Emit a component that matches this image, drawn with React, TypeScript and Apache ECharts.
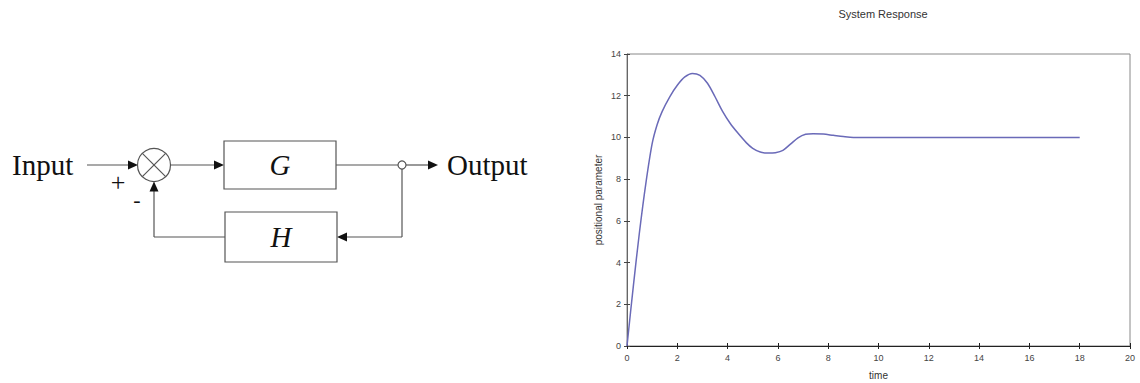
import React, { useEffect, useRef } from "react";
import * as echarts from "echarts";

// Step response of the closed loop (time, position)
const timeValues = [
  0, 0.25, 0.5, 0.75, 1.0, 1.2, 1.4, 1.7, 2.0, 2.3, 2.6, 2.9, 3.2, 3.5, 3.8, 4.1, 4.4,
  4.75, 5.0, 5.3, 5.6, 5.9, 6.2, 6.5, 6.8, 7.1, 7.4, 7.8, 8.2, 8.6, 9.0, 18.0,
];
const positionValues = [
  0, 2.85, 5.5, 7.8, 9.7, 10.62, 11.25, 11.95, 12.5, 12.9, 13.07, 12.98, 12.6, 11.95,
  11.25, 10.68, 10.22, 9.74, 9.48, 9.3, 9.25, 9.27, 9.38, 9.68, 9.98, 10.15, 10.18,
  10.16, 10.1, 10.04, 10.0, 10.0,
];
const xTickStep = 2;
const yTickStep = 2;

const chartTitle = "System Response";
const xAxisName = "time";
const yAxisName = "positional parameter";

// Block diagram labels
const inputLabel = "Input";
const outputLabel = "Output";
const forwardLabel = "G";
const feedbackLabel = "H";

const lineColor = "#555";
const arrowColor = "#111";
const serif = "'Liberation Serif', 'Times New Roman', serif";
const sans = "'Liberation Sans', Arial, sans-serif";

function arrow(tipX: number, tipY: number, dir: "right" | "left" | "up") {
  const len = 10;
  const half = 4.5;
  let pts: number[][];
  if (dir === "right") pts = [[tipX, tipY], [tipX - len, tipY - half], [tipX - len, tipY + half]];
  else if (dir === "left") pts = [[tipX, tipY], [tipX + len, tipY - half], [tipX + len, tipY + half]];
  else pts = [[tipX, tipY], [tipX - half, tipY + len], [tipX + half, tipY + len]];
  return { type: "polygon", shape: { points: pts }, style: { fill: arrowColor } };
}

function seg(x1: number, y1: number, x2: number, y2: number) {
  return {
    type: "line",
    shape: { x1, y1, x2, y2 },
    style: { stroke: lineColor, lineWidth: 1.2 },
  };
}

export default function App() {
  const ref = useRef<HTMLDivElement>(null);

  useEffect(() => {
    if (!ref.current) return;
    const chart = echarts.init(ref.current, null, { renderer: "svg" });

    const cx = 154;
    const cy = 165;
    const r = 16.5;
    const d = r * Math.SQRT1_2;

    const diagram: any[] = [
      {
        type: "text",
        x: 12,
        y: cy,
        style: { text: inputLabel, font: `29px ${serif}`, fill: "#111", verticalAlign: "middle" },
      },
      seg(87, cy, 130, cy),
      arrow(138, cy, "right"),
      { type: "circle", shape: { cx, cy, r }, style: { fill: "#fff", stroke: lineColor, lineWidth: 1.2 } },
      seg(cx - d, cy - d, cx + d, cy + d),
      seg(cx - d, cy + d, cx + d, cy - d),
      {
        type: "text",
        x: 118,
        y: 182,
        style: { text: "+", font: `26px ${serif}`, fill: "#111", align: "center", verticalAlign: "middle" },
      },
      {
        type: "text",
        x: 137,
        y: 199,
        style: { text: "-", font: `22px ${serif}`, fill: "#111", align: "center", verticalAlign: "middle" },
      },
      seg(cx + r, cy, 216, cy),
      arrow(224, cy, "right"),
      { type: "rect", shape: { x: 224, y: 141, width: 112, height: 48 }, style: { fill: "#fff", stroke: lineColor, lineWidth: 1.2 } },
      {
        type: "text",
        x: 280,
        y: cy,
        style: { text: forwardLabel, font: `italic 29px ${serif}`, fill: "#111", align: "center", verticalAlign: "middle" },
      },
      seg(336, cy, 398, cy),
      { type: "circle", shape: { cx: 402, cy, r: 4 }, style: { fill: "#fff", stroke: lineColor, lineWidth: 1.2 } },
      seg(406, cy, 430, cy),
      arrow(438, cy, "right"),
      {
        type: "text",
        x: 447,
        y: cy,
        style: { text: outputLabel, font: `29px ${serif}`, fill: "#111", verticalAlign: "middle" },
      },
      seg(402, cy + 4, 402, 237),
      seg(402, 237, 345, 237),
      arrow(337, 237, "left"),
      { type: "rect", shape: { x: 225, y: 212, width: 112, height: 50 }, style: { fill: "#fff", stroke: lineColor, lineWidth: 1.2 } },
      {
        type: "text",
        x: 281,
        y: 237,
        style: { text: feedbackLabel, font: `italic 29px ${serif}`, fill: "#111", align: "center", verticalAlign: "middle" },
      },
      seg(225, 237, cx, 237),
      seg(cx, 237, cx, cy + r + 8),
      arrow(cx, cy + r, "up"),
    ];

    const labelStyle = { fontSize: 9, color: "#444", fontFamily: sans };

    chart.setOption({
      animation: false,
      backgroundColor: "#fff",
      title: {
        text: chartTitle,
        left: 878,
        top: 3,
        textAlign: "center",
        textStyle: { fontSize: 11, fontWeight: "normal", color: "#333", fontFamily: sans },
      },
      grid: {
        left: 627,
        right: 10,
        top: 54,
        bottom: 37,
        show: true,
        borderColor: "#888",
        borderWidth: 1,
        containLabel: false,
        outerBoundsMode: "none",
      },
      xAxis: [
        {
          type: "value",
          min: 0,
          max: 20,
          interval: xTickStep,
          name: xAxisName,
          nameLocation: "middle",
          nameGap: 24,
          nameTextStyle: { fontSize: 10, color: "#333", fontFamily: sans },
          axisLine: { show: true, lineStyle: { color: "#222", width: 1 } },
          axisTick: { show: true, length: 3, lineStyle: { color: "#222" } },
          axisLabel: { ...labelStyle, margin: 7 },
          splitLine: { show: false },
        },
        {
          type: "value",
          position: "bottom",
          min: 0,
          max: 20,
          interval: xTickStep,
          axisLine: { show: false },
          axisTick: { show: true, inside: true, length: 3, lineStyle: { color: "#222" } },
          axisLabel: { show: false },
          splitLine: { show: false },
        },
      ],
      yAxis: [
        {
          type: "value",
          min: 0,
          max: 14,
          interval: yTickStep,
          name: yAxisName,
          nameLocation: "middle",
          nameGap: 24,
          nameTextStyle: { fontSize: 10, color: "#333", fontFamily: sans },
          axisLine: { show: true, lineStyle: { color: "#666", width: 1 } },
          axisTick: { show: true, length: 3, lineStyle: { color: "#444" } },
          axisLabel: { ...labelStyle, margin: 6 },
          splitLine: { show: false },
        },
        {
          type: "value",
          position: "left",
          min: 0,
          max: 14,
          interval: yTickStep,
          axisLine: { show: false },
          axisTick: { show: true, inside: true, length: 3, lineStyle: { color: "#444" } },
          axisLabel: { show: false },
          splitLine: { show: false },
        },
      ],
      series: [
        {
          type: "line",
          xAxisIndex: 0,
          yAxisIndex: 0,
          data: timeValues.map((t, i) => [t, positionValues[i]]),
          showSymbol: false,
          smooth: 0.3,
          lineStyle: { color: "#6a6ab8", width: 1.5 },
        },
      ],
      graphic: diagram,
    });

    return () => chart.dispose();
  }, []);

  return (
    <div
      ref={ref}
      style={{ position: "fixed", left: 0, top: 0, width: 1140, height: 383, background: "#fff" }}
    />
  );
}
